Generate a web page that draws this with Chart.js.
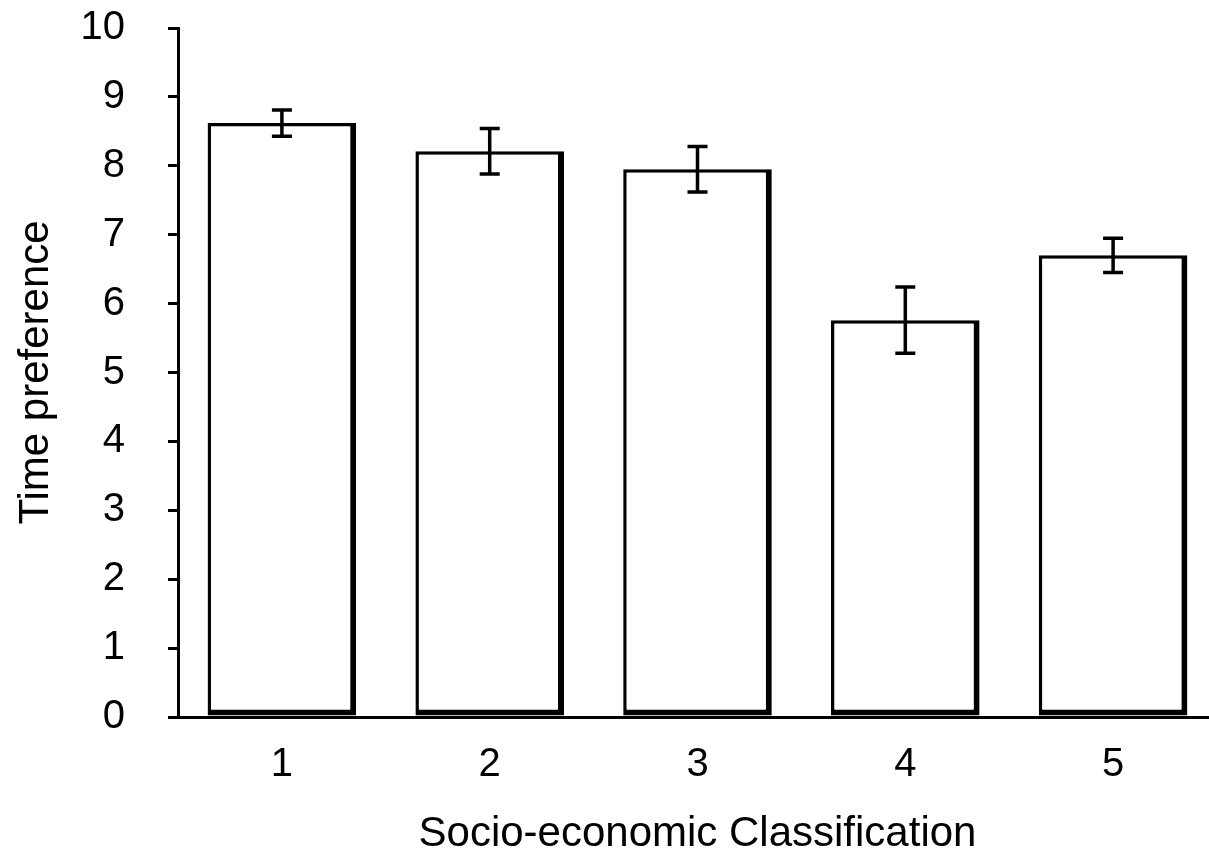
<!DOCTYPE html>
<html>
<head>
<meta charset="utf-8">
<script src="https://cdn.jsdelivr.net/npm/chart.js@4.4.0/dist/chart.umd.min.js"></script>
<style>
    html, body { margin: 0; padding: 0; background: #fff; overflow: hidden; }
    /* taller box pulled up so the plot top lands where the tick label padding would push it down */
    #wrap { position: relative; width: 1217px; height: 890px; margin-top: -39px; }
</style>
</head>
<body>
<div id="wrap"><canvas id="barChart"></canvas></div>
<script>
const categories = ['1', '2', '3', '4', '5'];
const meanValues = [8.62, 8.21, 7.95, 5.76, 6.70];
const errorValues = [0.19, 0.33, 0.33, 0.48, 0.25];
const yTicks = [0, 1, 2, 3, 4, 5, 6, 7, 8, 9, 10];

const fontFamily = '"Liberation Sans", Arial, Helvetica, sans-serif';

// draws the vertical error bars with caps on top of each bar
const errorBarPlugin = {
    id: 'errorBars',
    afterDatasetsDraw(chart) {
        const ctx = chart.ctx;
        const yScale = chart.scales.y;
        const meta = chart.getDatasetMeta(0);
        ctx.save();
        ctx.strokeStyle = '#000';
        ctx.lineWidth = 3.5;
        meta.data.forEach((bar, i) => {
            const top = yScale.getPixelForValue(meanValues[i] + errorValues[i]);
            const bottom = yScale.getPixelForValue(meanValues[i] - errorValues[i]);
            ctx.beginPath();
            ctx.moveTo(bar.x, top);
            ctx.lineTo(bar.x, bottom);
            ctx.moveTo(bar.x - 10, top);
            ctx.lineTo(bar.x + 10, top);
            ctx.moveTo(bar.x - 10, bottom);
            ctx.lineTo(bar.x + 10, bottom);
            ctx.stroke();
        });
        ctx.restore();
    }
};

const ctx = document.getElementById('barChart');

new Chart(ctx, {
    type: 'bar',
    data: {
        labels: categories,
        datasets: [{
            data: meanValues,
            backgroundColor: '#fff',
            borderColor: '#000',
            borderWidth: { left: 3.5, top: 3.5, right: 6, bottom: 6 },
            borderSkipped: false,
            barPercentage: 0.715,
            categoryPercentage: 1
        }]
    },
    options: {
        responsive: true,
        maintainAspectRatio: false,
        animation: false,
        layout: { padding: { top: 28, right: 0, bottom: 0, left: 0 } },
        plugins: {
            legend: { display: false },
            tooltip: { enabled: false }
        },
        scales: {
            x: {
                grid: { display: false },
                border: { display: true, color: '#000', width: 3 },
                ticks: {
                    color: '#000',
                    padding: 16,
                    font: { family: fontFamily, size: 40 }
                },
                title: {
                    display: true,
                    text: 'Socio-economic Classification',
                    color: '#000',
                    padding: { top: 0, bottom: 0 },
                    font: { family: fontFamily, size: 42, lineHeight: 0.8 }
                },
                afterFit: (scale) => { scale.height = 134; }
            },
            y: {
                min: 0,
                max: 10,
                afterBuildTicks: (scale) => { scale.ticks = yTicks.map(v => ({ value: v })); },
                grid: {
                    drawOnChartArea: false,
                    drawTicks: true,
                    tickLength: 10,
                    color: '#000',
                    lineWidth: 3
                },
                border: { display: true, color: '#000', width: 3 },
                ticks: {
                    color: '#000',
                    padding: 43,
                    font: { family: fontFamily, size: 40 }
                },
                title: {
                    display: true,
                    text: 'Time preference',
                    color: '#000',
                    padding: { top: 11, bottom: 0 },
                    font: { family: fontFamily, size: 42 }
                },
                afterFit: (scale) => { scale.width = 178; }
            }
        }
    },
    plugins: [errorBarPlugin]
});
</script>
</body>
</html>
